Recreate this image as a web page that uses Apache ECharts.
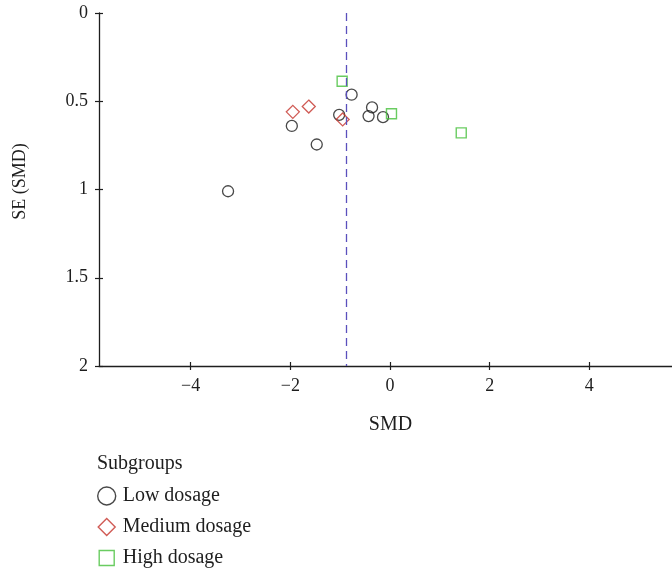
<!DOCTYPE html>
<html>
<head>
<meta charset="utf-8">
<script src="https://cdn.jsdelivr.net/npm/echarts@6/dist/echarts.min.js"></script>
<style>
  html, body { margin: 0; padding: 0; background: #fff; }
  #chart { width: 672px; height: 574px; }
</style>
</head>
<body>
<div id="chart"></div>
<script>
// funnel plot data: SMD vs SE(SMD) per subgroup
const lowSMD = [-3.25, -1.97, -1.47, -1.02, -0.77, -0.43, -0.36, -0.14];
const lowSE = [1.01, 0.64, 0.745, 0.577, 0.463, 0.584, 0.535, 0.59];
const medSMD = [-1.95, -1.63, -0.95];
const medSE = [0.56, 0.53, 0.603];
const highSMD = [-0.96, 0.03, 1.43];
const highSE = [0.387, 0.571, 0.679];
const pooledSMD = -0.88;
const xTicks = [-4, -2, 0, 2, 4];
const groupNames = ['Low dosage', 'Medium dosage', 'High dosage'];

const font = '"Liberation Serif", "DejaVu Serif", serif';
const ink = '#1e1e1e';
const colors = { low: '#1a1a1a', med: '#c4322b', high: '#45bf3a' };

const pairs = (xs, ys) => xs.map((x, i) => [x, ys[i]]);

const chart = echarts.init(document.getElementById('chart'));

const axisLine = { show: true, onZero: false, lineStyle: { color: ink, width: 1.3 } };
const xRange = { min: -5.84, max: 5.66 };

chart.setOption({
  animation: false,
  title: {
    text: 'Subgroups',
    left: 97,
    top: 454,
    padding: 0,
    textStyle: { fontFamily: font, fontSize: 20, fontWeight: 'normal', color: ink }
  },
  legend: {
    orient: 'vertical',
    left: 97,
    top: 486,
    padding: 0,
    itemWidth: 18,
    itemHeight: 18,
    itemGap: 11,
    textStyle: { fontFamily: font, fontSize: 20, color: ink, padding: [0, 0, 0, 2] },
    data: [
      { name: groupNames[0], icon: 'circle', itemStyle: { color: 'transparent', borderColor: colors.low, borderWidth: 1.4 } },
      { name: groupNames[1], icon: 'path://M0,0M18,18M9,0.5L17.5,9L9,17.5L0.5,9Z', itemStyle: { color: 'transparent', borderColor: colors.med, borderWidth: 1.4 } },
      { name: groupNames[2], icon: 'path://M0,0M18,18M1.5,1.5H16.5V16.5H1.5Z', itemStyle: { color: 'transparent', borderColor: colors.high, borderWidth: 1.4 } }
    ]
  },
  grid: { left: 99, right: 0, top: 13, bottom: 208, containLabel: false },
  xAxis: [{
    type: 'value',
    min: xRange.min,
    max: xRange.max,
    name: 'SMD',
    nameLocation: 'middle',
    nameGap: 49,
    nameTextStyle: { fontFamily: font, fontSize: 20, color: ink, padding: [0, 0, 0, 10] },
    axisLine: axisLine,
    splitLine: { show: false },
    axisTick: { show: true, length: 4, customValues: xTicks, lineStyle: { color: ink, width: 1.2 } },
    axisLabel: {
      customValues: xTicks,
      margin: 11,
      fontFamily: font, fontSize: 18, color: ink,
      formatter: v => (v < 0 ? '\u2212' + Math.abs(v) : String(v))
    }
  }, {
    type: 'value',
    min: xRange.min,
    max: xRange.max,
    position: 'bottom',
    axisLine: { show: false, onZero: false },
    splitLine: { show: false },
    axisTick: { show: true, inside: true, length: 4, customValues: xTicks, lineStyle: { color: ink, width: 1.2 } },
    axisLabel: { show: false }
  }],
  yAxis: [{
    type: 'value',
    inverse: true,
    min: 0,
    max: 2,
    interval: 0.5,
    name: 'SE (SMD)',
    nameLocation: 'middle',
    nameGap: 70,
    nameTextStyle: { fontFamily: font, fontSize: 18, color: ink, padding: [0, 0, 0, 16] },
    axisLine: axisLine,
    splitLine: { show: false },
    axisTick: { show: true, length: 4, lineStyle: { color: ink, width: 1.2 } },
    axisLabel: { margin: 11, fontFamily: font, fontSize: 18, color: ink }
  }, {
    type: 'value',
    inverse: true,
    min: 0,
    max: 2,
    interval: 0.5,
    position: 'left',
    axisLine: { show: false, onZero: false },
    splitLine: { show: false },
    axisTick: { show: true, inside: true, length: 4, lineStyle: { color: ink, width: 1.2 } },
    axisLabel: { show: false }
  }],
  series: [
    {
      name: groupNames[0],
      type: 'scatter',
      symbol: 'circle',
      symbolSize: 11,
      itemStyle: { color: 'transparent', borderColor: colors.low, borderWidth: 1.3 },
      data: pairs(lowSMD, lowSE),
      markLine: {
        silent: true,
        symbol: 'none',
        label: { show: false },
        lineStyle: { color: '#5a50bd', type: [8, 5], width: 1.3 },
        data: [{ xAxis: pooledSMD }]
      }
    },
    {
      name: groupNames[1],
      type: 'scatter',
      symbol: 'diamond',
      symbolSize: 13,
      itemStyle: { color: 'transparent', borderColor: colors.med, borderWidth: 1.3 },
      data: pairs(medSMD, medSE)
    },
    {
      name: groupNames[2],
      type: 'scatter',
      symbol: 'rect',
      symbolSize: 10,
      itemStyle: { color: 'transparent', borderColor: colors.high, borderWidth: 1.4 },
      data: pairs(highSMD, highSE)
    }
  ]
});
</script>
</body>
</html>
